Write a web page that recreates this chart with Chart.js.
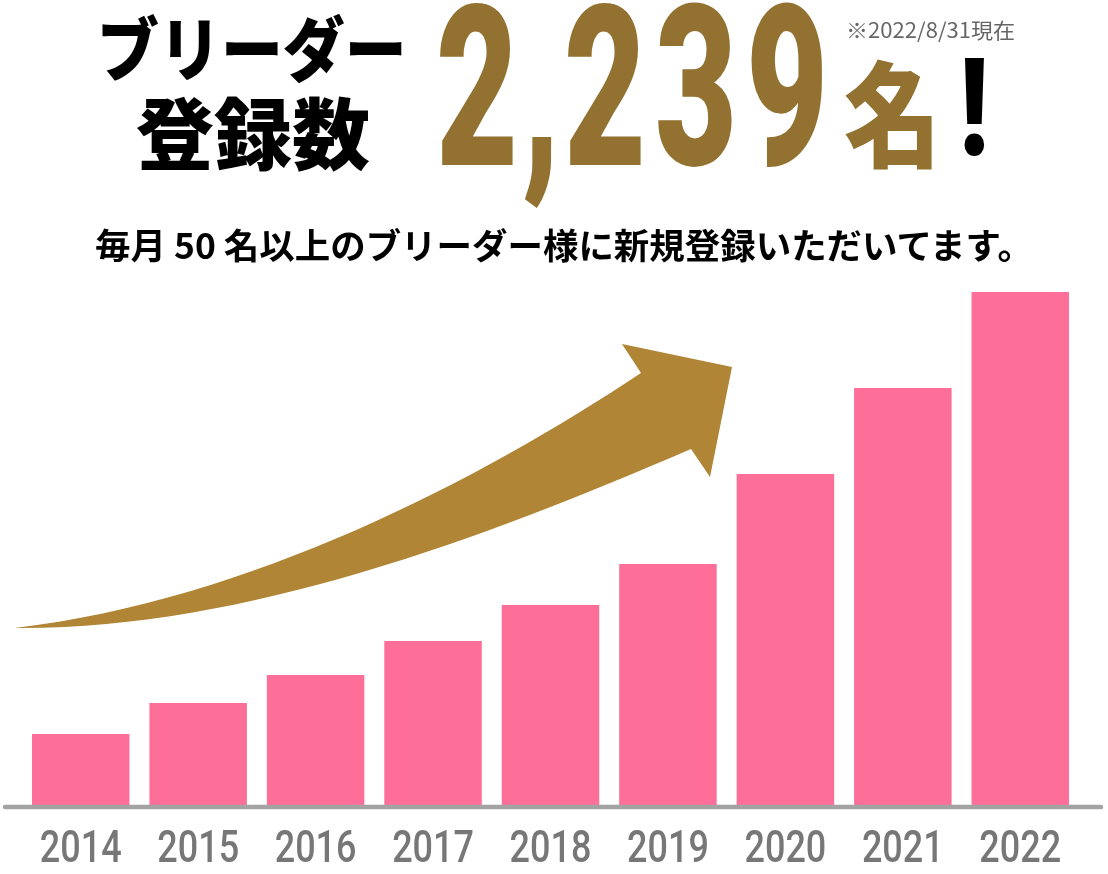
<!DOCTYPE html>
<html lang="ja">
<head>
<meta charset="utf-8">
<title>ブリーダー登録数</title>
<script src="https://cdn.jsdelivr.net/npm/chart.js@4"></script>
<style>
  html, body { margin: 0; padding: 0; background: #fff; }
  #wrap { position: relative; width: 1108px; height: 874px; overflow: hidden; }
  #chart { position: absolute; left: 0; top: 0; }
  .t { position: absolute; white-space: nowrap; line-height: 1; font-family: "Noto Sans CJK JP", sans-serif; }
  .big { font-family: Roboto, sans-serif; font-weight: 900; color: #937231; font-size: 225px; transform: scaleX(0.63); transform-origin: left top; }
</style>
</head>
<body>
<div id="wrap">
  <canvas id="chart" width="1108" height="874"></canvas>

  <div class="t" style="left:97px; top:11px; font-size:70px; font-weight:900; transform:scaleX(0.885); transform-origin:left top;">ブリーダー</div>
  <div class="t" style="left:136px; top:91px; font-size:78px; font-weight:900;">登録数</div>

  <div class="t big" style="left:436px; top:-24px;">2</div>
  <div class="t big" style="left:522px; top:-24px;">,</div>
  <div class="t big" style="left:564px; top:-24px;">2</div>
  <div class="t big" style="left:655px; top:-24px;">3</div>
  <div class="t big" style="left:746px; top:-24px;">9</div>

  <div class="t" style="left:846px; top:19px; font-size:21px; color:#666; transform:scaleX(1.05); transform-origin:left top;">※2022/8/31現在</div>
  <div class="t" style="left:844px; top:52px; font-size:114px; font-weight:900; color:#937231; transform:scaleX(0.85); transform-origin:left top;">名</div>
  <div class="t" style="left:959px; top:42px; font-size:135px; font-weight:900; font-family:Roboto, sans-serif; color:#000; transform:scaleX(0.8); transform-origin:left top;">!</div>

  <div class="t" style="left:95px; top:226px; font-size:35px; font-weight:700; color:#000; transform:scaleX(1.013); transform-origin:left top;">毎月 50 名以上のブリーダー様に新規登録いただいてます。</div>
</div>

<script>
// 年ごとのブリーダー登録数 (累計)
const years = ["2014", "2015", "2016", "2017", "2018", "2019", "2020", "2021", "2022"];
const breeders = [310, 445, 567, 716, 873, 1052, 1445, 1820, 2239];
const yMax = 2239;

const barColor = "#fd6e99";
const arrowColor = "#b08636";

// 装飾: 金色の矢印、下の灰色ライン、年ラベル
const decorPlugin = {
  id: "decor",
  beforeDatasetsDraw(chart) {
    const ctx = chart.ctx;
    ctx.save();
    ctx.fillStyle = arrowColor;
    ctx.beginPath();
    ctx.moveTo(15, 628);
    ctx.bezierCurveTo(250, 600, 480, 480, 641, 373);
    ctx.lineTo(622, 344);
    ctx.lineTo(732, 367);
    ctx.lineTo(710, 477);
    ctx.lineTo(691, 449);
    ctx.bezierCurveTo(480, 540, 240, 630, 15, 628);
    ctx.closePath();
    ctx.fill();
    ctx.restore();
  },
  afterDatasetsDraw(chart) {
    const ctx = chart.ctx;
    const area = chart.chartArea;
    const xScale = chart.scales.x;

    ctx.save();
    ctx.strokeStyle = "#a3a3a3";
    ctx.lineWidth = 4.5;
    ctx.lineCap = "round";
    ctx.beginPath();
    ctx.moveTo(5, area.bottom + 2);
    ctx.lineTo(1101, area.bottom + 2);
    ctx.stroke();

    ctx.fillStyle = "#777";
    ctx.font = "500 45px Roboto";
    ctx.textAlign = "center";
    ctx.textBaseline = "middle";
    const sx = 0.8;
    years.forEach((y, i) => {
      const x = xScale.getPixelForTick(i);
      ctx.save();
      ctx.translate(x, area.bottom + 46);
      ctx.scale(sx, 1);
      ctx.fillText(y, 0, 0);
      ctx.restore();
    });
    ctx.restore();
  }
};

new Chart(document.getElementById("chart").getContext("2d"), {
  type: "bar",
  data: {
    labels: years,
    datasets: [{
      label: "ブリーダー登録数",
      data: breeders,
      backgroundColor: barColor,
      borderWidth: 0,
      categoryPercentage: 1,
      barPercentage: 0.83
    }]
  },
  options: {
    responsive: false,
    animation: false,
    devicePixelRatio: 1,
    layout: { padding: { top: 292, left: 22, right: 29, bottom: 69 } },
    plugins: {
      legend: { display: false },
      tooltip: { enabled: false }
    },
    scales: {
      x: { display: false },
      y: { display: false, min: 0, max: yMax }
    }
  },
  plugins: [decorPlugin]
});
</script>
</body>
</html>
